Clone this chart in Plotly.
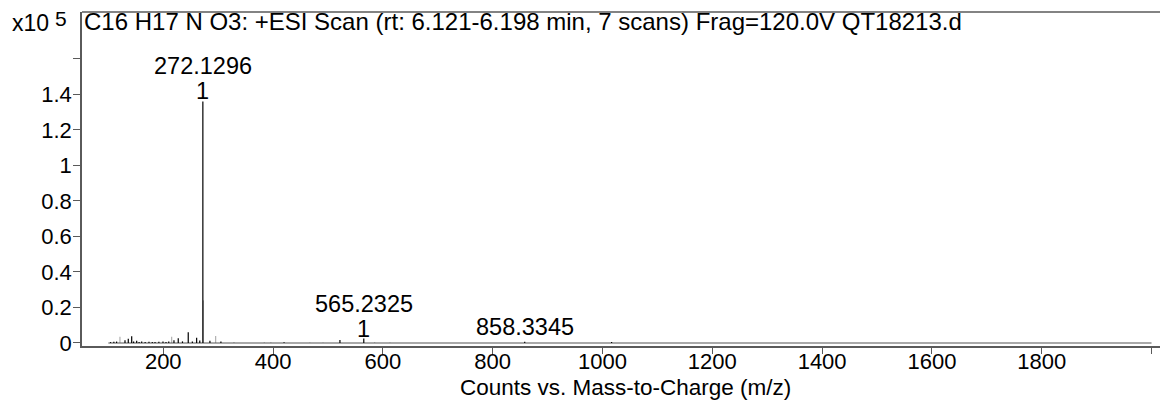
import plotly.graph_objects as go

# ---- data ----
centroid_mz = [104.0, 110.0, 115.0, 130.3, 136.3, 142.5, 146.0, 151.6, 156.0, 160.7, 167.0,
               174.0, 180.0, 185.0, 192.0, 199.5, 205.0, 210.0, 219.5, 227.3, 235.0, 245.5,
               253.0, 260.8, 266.5, 272.1296, 285.0, 305.0, 420.0, 521.8, 565.2325,
               858.3345, 1016.6]
centroid_counts = [500, 700, 800, 1600, 2400, 3800, 900, 1300, 600, 900, 600,
                   700, 500, 600, 700, 800, 600, 900, 1600, 2600, 900, 6000,
                   800, 3000, 1400, 136000, 1300, 800, 400, 1700, 2500,
                   700, 600]

profile_mz = [121.1, 215.3, 273.13, 295.4, 328.8, 384.0, 396.0, 467.0, 491.0, 585.0, 613.0]
profile_counts = [3500, 3500, 24000, 4000, 500, 400, 400, 300, 300, 400, 300]

baseline_mz = [100.0, 2000.0]
baseline_counts = [0, 0]

label_mz = [272.1296, 565.2325, 858.3345]
label_counts = [136000, 2500, 700]
label_text = ["272.1296", "565.2325", "858.3345"]
label_compound = ["1", "1", ""]

x_tick_vals = [200, 400, 600, 800, 1000, 1200, 1400, 1600, 1800, 2000]
x_tick_text = ["200", "400", "600", "800", "1000", "1200", "1400", "1600", "1800", ""]
y_tick_vals = [0, 20000, 40000, 60000, 80000, 100000, 120000, 140000, 160000]
y_tick_text = ["0", "0.2", "0.4", "0.6", "0.8", "1", "1.2", "1.4", ""]

header = "C16 H17 N O3: +ESI Scan (rt: 6.121-6.198 min, 7 scans) Frag=120.0V QT18213.d"
x_title = "Counts vs. Mass-to-Charge (m/z)"


def sticks(mz, counts):
    xs, ys = [], []
    for m, c in zip(mz, counts):
        xs += [m, m, None]
        ys += [0, c, None]
    return xs, ys


FONT = "Liberation Sans, Arial, sans-serif"
FS = 23.5      # annotation text
FT = 22        # tick labels
AXC = "#5a5a5a"
PLOT_H = 334.0

fig = go.Figure()
px, py = sticks(profile_mz, profile_counts)
fig.add_trace(go.Scatter(x=px, y=py, mode="lines", line=dict(color="#b0b0b0", width=1.2),
                         hoverinfo="skip", showlegend=False))
fig.add_trace(go.Scatter(x=baseline_mz, y=baseline_counts, mode="lines",
                         line=dict(color="#555555", width=1.2), showlegend=False))
cx, cy = sticks(centroid_mz, centroid_counts)
fig.add_trace(go.Scatter(x=cx, y=cy, mode="lines", line=dict(color="black", width=1.2),
                         showlegend=False))

annotations = []
for m, c, t, comp in zip(label_mz, label_counts, label_text, label_compound):
    if comp:
        annotations.append(dict(x=m, y=c, xref="x", yref="y", text=comp, showarrow=False,
                                xanchor="center", yanchor="bottom", yshift=-5,
                                font=dict(family=FONT, size=FS, color="black")))
        annotations.append(dict(x=m, y=c, xref="x", yref="y", text=t, showarrow=False,
                                xanchor="center", yanchor="bottom", yshift=20,
                                font=dict(family=FONT, size=FS, color="black")))
    else:
        annotations.append(dict(x=m, y=c, xref="x", yref="y", text=t, showarrow=False,
                                xanchor="center", yanchor="bottom", yshift=0,
                                font=dict(family=FONT, size=FS, color="black")))

annotations.append(dict(x=0 / 1086, y=1 - 9 / PLOT_H, xref="paper", yref="paper",
                        text=header, showarrow=False, xanchor="left", yanchor="middle",
                        font=dict(family=FONT, size=24, color="black")))
annotations.append(dict(x=-72 / 1086, y=1 - 11 / PLOT_H, xref="paper", yref="paper",
                        text="x10", showarrow=False, xanchor="left", yanchor="middle",
                        font=dict(family=FONT, size=FS - 0.5, color="black")))
annotations.append(dict(x=-29 / 1086, y=1 - 6 / PLOT_H, xref="paper", yref="paper",
                        text="5", showarrow=False, xanchor="left", yanchor="middle",
                        font=dict(family=FONT, size=FS - 2.5, color="black")))
annotations.append(dict(x=0.5, y=-41.5 / PLOT_H, xref="paper", yref="paper",
                        text=x_title, showarrow=False, xanchor="center", yanchor="middle",
                        font=dict(family=FONT, size=22.5, color="black")))

# page has an 8px body margin, so the figure is laid out 8px smaller
fig.update_layout(
    width=1160, height=392,
    margin=dict(l=74, r=0, t=4, b=54, autoexpand=False),
    paper_bgcolor="white", plot_bgcolor="white",
    showlegend=False,
    annotations=annotations,
    shapes=[dict(type="line", xref="paper", yref="paper", x0=0, x1=1, y0=1, y1=1,
                 line=dict(color=AXC, width=1.5))],
    xaxis=dict(range=[52, 2030], showgrid=False, zeroline=False, showline=True,
               automargin=False,
               linecolor=AXC, linewidth=1.5, ticks="outside", ticklen=6, tickcolor=AXC,
               tickvals=x_tick_vals, ticktext=x_tick_text, ticklabelstandoff=-11,
               tickfont=dict(family=FONT, size=FT, color="black")),
    yaxis=dict(range=[-1700, 186400], showgrid=False, zeroline=False, showline=True,
               automargin=False,
               linecolor=AXC, linewidth=1.5, ticks="outside", ticklen=7, tickcolor=AXC,
               tickvals=y_tick_vals, ticktext=y_tick_text, ticklabelstandoff=-3,
               tickfont=dict(family=FONT, size=FT, color="black")),
)

fig.write_html("out.html")
